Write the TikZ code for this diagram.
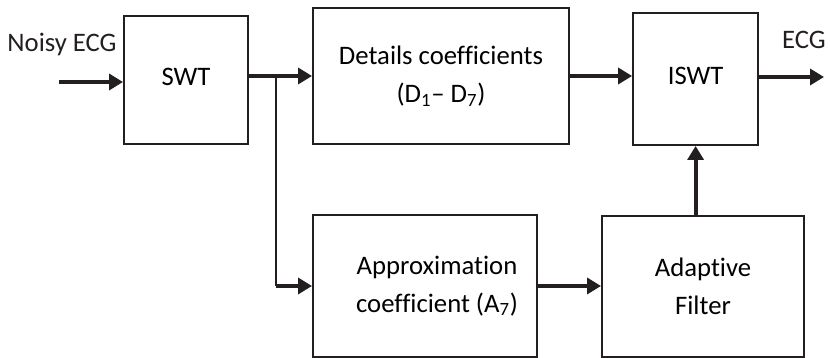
\documentclass[tikz,border=0pt]{standalone}
\usepackage{fontspec}
\setmainfont{Carlito}[RawFeature={-liga;-clig;-dlig}]
\usetikzlibrary{arrows.meta}
\definecolor{ink}{HTML}{231F20}
\begin{document}
\begin{tikzpicture}[font=\fontsize{19}{27}\selectfont,
    box/.style={draw=ink,line width=1.4pt,align=center,inner sep=0pt},
    arr/.style={draw=ink,line width=2.8pt,-{Triangle[length=0.35cm,width=0.4cm]}}]
            \useasboundingbox (0,0) rectangle (20.75,8.95);
            \node[box,minimum width=3.1cm,minimum height=3.2cm] (swt) at (4.65,6.95) {\raisebox{5pt}{SWT}};
            \node[box,minimum width=6.4cm,minimum height=3.4cm] (det) at (11.025,7.05) {\raisebox{-3pt}{\begin{tabular}{@{}c@{}}Details coefficients\\(D\textsubscript{1}– D\textsubscript{7})\end{tabular}}};
            \node[box,minimum width=3.125cm,minimum height=3.3cm] (iswt) at (17.39,6.975) {\raisebox{4pt}{ISWT}};
            \node[box,minimum width=5.6cm,minimum height=3.55cm] (appr) at (10.625,1.8) {\hspace{0.6cm}Approximation\\\hspace{0.6cm}coefficient (A\textsubscript{7})};
            \node[box,minimum width=5.05cm,minimum height=3.525cm] (adf) at (17.575,1.7875) {Adaptive\\Filter};
            \node[text=ink] (inlab) at (1.55,7.85) {Noisy ECG};
            \node[text=ink] (outlab) at (20.1,7.95) {ECG};
            \coordinate (in) at (1.475,6.9);
            \coordinate (out) at (20.6,7.025);
            \coordinate (br) at (6.9,7.05);
            \draw[arr] (in) -- (in -| swt.west);
            \draw[arr] (swt.east |- det.west) -- (det.west);
            \draw[draw=ink,line width=1.4pt] (br) -- (br |- appr.west);
            \draw[arr] (br |- appr.west) -- (appr.west);
            \draw[arr] (det.east) -- (det.east -| iswt.west);
            \draw[arr] (iswt.east |- out) -- (out);
            \draw[arr] (appr.east) -- (appr.east -| adf.west);
            \draw[arr] (iswt.south |- adf.north) -- (iswt.south);
\end{tikzpicture}
\end{document}
